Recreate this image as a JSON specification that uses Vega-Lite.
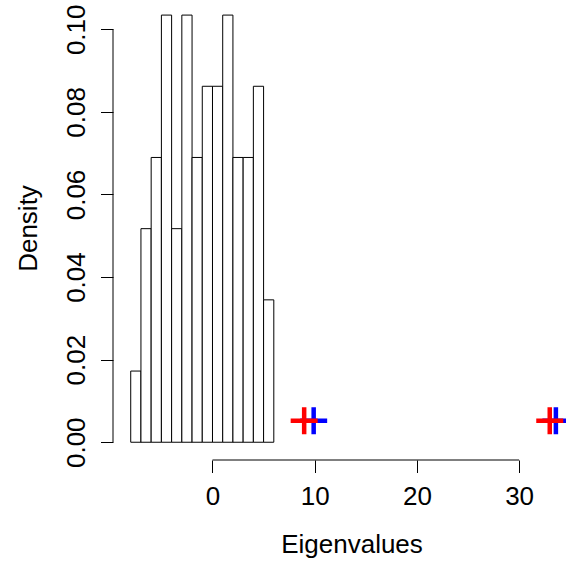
{
  "$schema": "https://vega.github.io/schema/vega-lite/v6.json",
  "width": 453,
  "height": 460,
  "autosize": "none",
  "padding": {"left": 113, "top": 0, "right": 0, "bottom": 102},
  "background": "white",
  "config": {
    "view": {"stroke": null},
    "font": "Liberation Sans",
    "axis": {
      "grid": false,
      "domain": false,
      "tickColor": "black",
      "tickWidth": 1,
      "tickSize": 12.5,
      "labelFont": "Liberation Sans",
      "labelFontSize": 26,
      "labelColor": "black",
      "labelFlush": false,
      "labelOverlap": false,
      "titleFont": "Liberation Sans",
      "titleFontSize": 26,
      "titleFontWeight": "normal",
      "titleColor": "black"
    }
  },
  "datasets": {
    "bins": [
      {"lo": -8, "hi": -7, "density": 0.017241},
      {"lo": -7, "hi": -6, "density": 0.051724},
      {"lo": -6, "hi": -5, "density": 0.068966},
      {"lo": -5, "hi": -4, "density": 0.103448},
      {"lo": -4, "hi": -3, "density": 0.051724},
      {"lo": -3, "hi": -2, "density": 0.103448},
      {"lo": -2, "hi": -1, "density": 0.068966},
      {"lo": -1, "hi": 0, "density": 0.086207},
      {"lo": 0, "hi": 1, "density": 0.086207},
      {"lo": 1, "hi": 2, "density": 0.103448},
      {"lo": 2, "hi": 3, "density": 0.068966},
      {"lo": 3, "hi": 4, "density": 0.068966},
      {"lo": 4, "hi": 5, "density": 0.086207},
      {"lo": 5, "hi": 6, "density": 0.034483}
    ],
    "blue": [
      {"value": 9.9, "y": 0.0052},
      {"value": 33.6, "y": 0.0052}
    ],
    "red": [
      {"value": 8.97, "y": 0.0052},
      {"value": 33.0, "y": 0.0052}
    ],
    "xline": [{"x": 0, "x2": 30, "y": -0.0043}],
    "yline": [{"x": -9.735, "y": 0, "y2": 0.1}]
  },
  "layer": [
    {
      "data": {"name": "bins"},
      "mark": {"type": "rect", "fill": "white", "stroke": "black", "strokeWidth": 1},
      "encoding": {
        "x": {
          "field": "lo", "type": "quantitative",
          "scale": {"domain": [-9.735, 34.59], "nice": false, "zero": false},
          "axis": {
            "values": [0, 10, 20, 30],
            "labelBaseline": "alphabetic",
            "labelPadding": 32,
            "title": "Eigenvalues",
            "titleBaseline": "alphabetic",
            "titleAlign": "center",
            "titleX": 238.5,
            "titleY": 92
          }
        },
        "x2": {"field": "hi"},
        "y": {
          "field": "density", "type": "quantitative",
          "scale": {"domain": [-0.0043, 0.1071], "nice": false, "zero": false},
          "axis": {
            "values": [0, 0.02, 0.04, 0.06, 0.08, 0.1],
            "format": ".2f",
            "labelAngle": -90,
            "labelAlign": "center",
            "labelBaseline": "alphabetic",
            "labelPadding": 16,
            "title": "Density",
            "titleAngle": -90,
            "titleAlign": "center",
            "titleBaseline": "alphabetic",
            "titleX": -76.6,
            "titleY": 228
          }
        },
        "y2": {"datum": 0}
      }
    },
    {
      "data": {"name": "xline"},
      "mark": {"type": "rule", "color": "black", "strokeWidth": 1},
      "encoding": {
        "x": {"field": "x", "type": "quantitative"},
        "x2": {"field": "x2"},
        "y": {"field": "y", "type": "quantitative"}
      }
    },
    {
      "data": {"name": "yline"},
      "mark": {"type": "rule", "color": "black", "strokeWidth": 1},
      "encoding": {
        "x": {"field": "x", "type": "quantitative"},
        "y": {"field": "y", "type": "quantitative"},
        "y2": {"field": "y2"}
      }
    },
    {
      "data": {"name": "blue"},
      "mark": {"type": "point", "shape": "M-1,0H1M0,-1V1", "filled": false, "stroke": "#0000FF", "strokeWidth": 4.5, "size": 729, "opacity": 1},
      "encoding": {
        "x": {"field": "value", "type": "quantitative"},
        "y": {"field": "y", "type": "quantitative"}
      }
    },
    {
      "data": {"name": "red"},
      "mark": {"type": "point", "shape": "M-1,0H1M0,-1V1", "filled": false, "stroke": "#FF0000", "strokeWidth": 4.5, "size": 729, "opacity": 1},
      "encoding": {
        "x": {"field": "value", "type": "quantitative"},
        "y": {"field": "y", "type": "quantitative"}
      }
    }
  ]
}
